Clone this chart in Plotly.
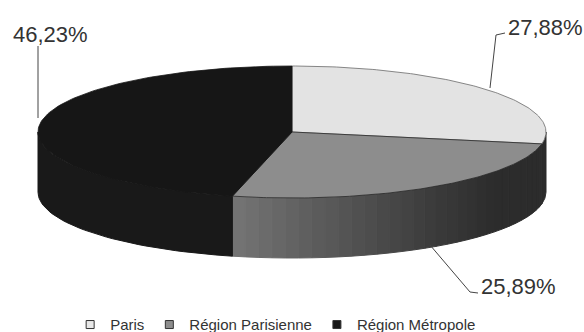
import numpy as np
import plotly.graph_objects as go

categories = ["Paris", "Région Parisienne", "Région Métropole"]
values = [27.88, 25.89, 46.23]
labels = ["27,88%", "25,89%", "46,23%"]
top_colors = ["#e3e3e3", "#8d8d8d", "#161616"]
outline_colors = ["#6a6a6a", "#2a2a2a", "#161616"]
legend_colors = ["#e8e8e8", "#8d8d8d", "#161616"]

W, H = 584, 332
cx, cy, rx, ry, depth = 292, 132, 254, 66, 60

def pt(theta_deg, drop=0.0):
    t = np.radians(theta_deg)
    return cx + rx * np.sin(t), cy - ry * np.cos(t) + drop

cum = np.concatenate([[0], np.cumsum(values)]) / sum(values) * 360
fig = go.Figure()

def side_color(theta, i):
    if i == 0:
        return "#2b2b2b"
    if i == 2:
        return "#191919"
    f = np.clip((theta - 125) / (cum[2] - 125), 0, 1)
    v = int(44 + (118 - 44) * f ** 1.3)
    return f"rgb({v},{v},{v})"

for i in range(3):
    a0, a1 = max(cum[i], 90), min(cum[i + 1], 270)
    if a1 <= a0:
        continue
    n = max(1, int((a1 - a0) / 3)) if i == 1 else 1
    edges = np.linspace(a0, a1, n + 1)
    for e0, e1 in zip(edges[:-1], edges[1:]):
        th = np.linspace(e0, e1, 40 if i != 1 else 4)
        xt, yt = pt(th)
        xb, yb = pt(th[::-1], depth)
        c = side_color((e0 + e1) / 2, i)
        fig.add_trace(go.Scatter(
            x=np.r_[xt, xb, xt[0]], y=np.r_[yt, yb, yt[0]],
            mode="lines", fill="toself", fillcolor=c,
            line=dict(color=c, width=1), showlegend=False, hoverinfo="skip"))

for i in range(3):
    th = np.linspace(cum[i], cum[i + 1], 120)
    xs, ys = pt(th)
    fig.add_trace(go.Scatter(
        x=np.r_[cx, xs, cx], y=np.r_[cy, ys, cy],
        mode="lines", fill="toself", fillcolor=top_colors[i],
        line=dict(color=outline_colors[i], width=0.8),
        showlegend=False, hoverinfo="skip"))

for i in range(3):
    fig.add_trace(go.Scatter(
        x=[None], y=[None], mode="markers", name=categories[i],
        marker=dict(symbol="square", size=8, color=legend_colors[i],
                    line=dict(color="#333", width=1))))

leaders = [
    ([490, 496, 505], [88, 35, 33]),
    ([430, 470, 478], [245, 292, 293]),
    ([38, 38], [118, 46]),
]
for lx, ly in leaders:
    fig.add_trace(go.Scatter(x=lx, y=ly, mode="lines", line=dict(color="#444", width=1),
                             showlegend=False, hoverinfo="skip"))

label_pos = [(506, 27), (479, 286), (11, 34)]
for (x, y), t in zip(label_pos, labels):
    fig.add_annotation(x=x, y=y, text=t, showarrow=False, xanchor="left", yanchor="middle",
                       font=dict(family="Liberation Sans", size=22, color="#333"))

fig.update_layout(
    width=W, height=H, margin=dict(l=0, r=0, t=0, b=0, autoexpand=False),
    paper_bgcolor="white", plot_bgcolor="white",
    xaxis=dict(range=[0, W], visible=False, fixedrange=True),
    yaxis=dict(range=[H, 0], visible=False, fixedrange=True),
    legend=dict(orientation="h", x=0.472, xanchor="center", y=-0.028, yanchor="bottom",
                font=dict(family="Liberation Sans", size=15, color="#333"),
                itemwidth=30, bgcolor="rgba(0,0,0,0)"),
)
fig.write_html("out.html", config=dict(displayModeBar=False),
               post_script="document.body.style.margin='0';")
